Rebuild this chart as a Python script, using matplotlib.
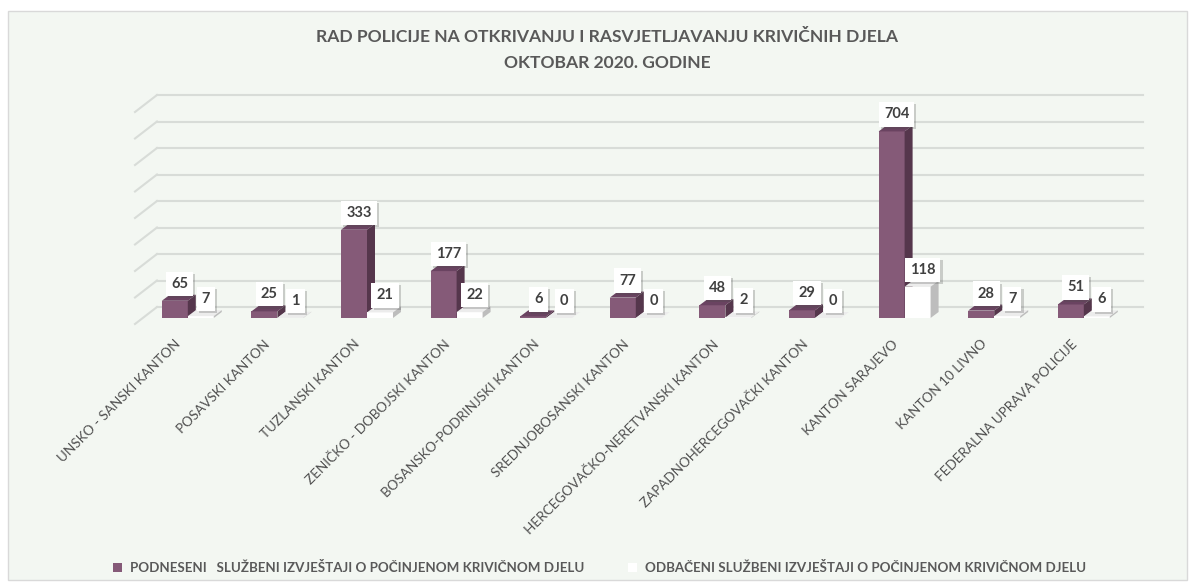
import matplotlib
matplotlib.use("Agg")
import matplotlib.pyplot as plt  # noqa: E402
from matplotlib.patches import Polygon, Rectangle  # noqa: E402
from matplotlib.transforms import ScaledTranslation, IdentityTransform  # noqa: E402
import matplotlib.patheffects as pe  # noqa: E402

kantoni = [
    "UNSKO - SANSKI KANTON", "POSAVSKI KANTON", "TUZLANSKI KANTON",
    "ZENIČKO - DOBOJSKI KANTON", "BOSANSKO-PODRINJSKI KANTON",
    "SREDNJOBOSANSKI KANTON", "HERCEGOVAČKO-NERETVANSKI KANTON",
    "ZAPADNOHERCEGOVAČKI KANTON", "KANTON SARAJEVO", "KANTON 10 LIVNO",
    "FEDERALNA UPRAVA POLICIJE",
]
podneseni = [65, 25, 333, 177, 6, 77, 48, 29, 704, 28, 51]
odbaceni = [7, 1, 21, 22, 0, 0, 2, 0, 118, 7, 6]
grid_vals = list(range(0, 801, 100))
leg_labels = ["PODNESENI   SLUŽBENI IZVJEŠTAJI O POČINJENOM KRIVIČNOM DJELU",
              "ODBAČENI SLUŽBENI IZVJEŠTAJI O POČINJENOM KRIVIČNOM DJELU"]
title = "RAD POLICIJE NA OTKRIVANJU I RASVJETLJAVANJU KRIVIČNIH DJELA\nOKTOBAR 2020. GODINE"

W, H, DPI = 1195, 585, 100
BG = "#F3F7F2"
GRID = "#D8DCD8"
TXT = "#595959"
PURPLE = ("#855A78", "#6A4361", "#55364C")   # front, top, side
WHITE = ("#FFFFFF", "#ECECEC", "#BDBDBD")
plt.rcParams["font.family"] = ["Lato", "DejaVu Sans"]

fig = plt.figure(figsize=(W / DPI, H / DPI), dpi=DPI)
fig.patch.set_facecolor("white")
fig.patches.append(Rectangle((8 / W, 5 / H), 1179 / W, 569 / H, transform=fig.transFigure,
                             facecolor=BG, edgecolor="#D9D9D9", lw=1, zorder=-10))

ax = fig.add_axes([143 / W, 267 / H, 985.6 / W, 212 / H])
ax.set_xlim(-0.5, len(kantoni) - 0.5)
ax.set_ylim(0, 800)
ax.axis("off")


def px(dx, dy):
    return ScaledTranslation(dx / DPI, dy / DPI, fig.dpi_scale_trans)


# back wall grid + left wall diagonals
fig.canvas.draw()
for v in grid_vals:
    ax.plot([-0.5, len(kantoni) - 0.5], [v, v], transform=ax.transData + px(14, 11),
            color=GRID, lw=1.5, clip_on=False, zorder=1)
    x0, y0 = ax.transData.transform((-0.5, v))
    ax.plot([x0 + 14, x0 - 8], [y0 + 11, y0 - 6], transform=IdentityTransform(),
            color=GRID, lw=1.5, clip_on=False, zorder=1)

bw = 0.29
DX, DY = 8, 6
z = 3


def bar3d(x0, v, cols):
    global z
    cont = ax.bar(x0, v, width=bw, align="edge", color=cols[0], lw=0, zorder=z, clip_on=False)
    (ax_, ay_), (bx_, by_) = ax.transData.transform([(x0, v), (x0 + bw, v)])
    (_, cy_) = ax.transData.transform((x0 + bw, 0))
    top = [(ax_, ay_), (bx_, by_), (bx_ + DX, by_ + DY), (ax_ + DX, ay_ + DY)]
    side = [(bx_, cy_), (bx_, by_), (bx_ + DX, by_ + DY), (bx_ + DX, cy_ + DY)]
    for pts, c in ((top, cols[1]), (side, cols[2])):
        ax.add_patch(Polygon(pts, closed=True, transform=IdentityTransform(), facecolor=c,
                             lw=0, zorder=z, clip_on=False))
    z += 1
    return cont


def label(xc, v):
    t = ax.text(xc, v, str(v), transform=ax.transData + px(5, 17), ha="center", va="center",
                fontsize=10.5, fontweight="bold", color="#404040", zorder=50,
                bbox=dict(boxstyle="square,pad=0.35", fc="white", ec="none"))
    t.get_bbox_patch().set_path_effects(
        [pe.SimplePatchShadow(offset=(1.5, -1.5), alpha=0.25), pe.Normal()])


handles = []
for i, (p, o) in enumerate(zip(podneseni, odbaceni)):
    hp = bar3d(i - bw, p, PURPLE)
    ho = bar3d(i, o, WHITE)
    if i == 0:
        handles = [hp, ho]
for i, (p, o) in enumerate(zip(podneseni, odbaceni)):
    label(i - bw / 2, p)
    label(i + bw / 2, o)

for i, name in enumerate(kantoni):
    ax.text(i, 0, name, transform=ax.transData + px(-9, -24), rotation=45, ha="right",
            va="center", rotation_mode="anchor", fontsize=9.7, color="#505050")

fig.text(607 / W, 1 - 50 / H, title, ha="center", va="center", fontsize=12.6,
         fontweight="bold", color=TXT, linespacing=1.75)

fig.legend(handles, leg_labels, loc="center left", bbox_to_anchor=(113 / W, 1 - 568 / H),
           ncol=2, frameon=False, borderaxespad=0, borderpad=0,
           handlelength=0.66, handleheight=0.66, handletextpad=0.6,
           columnspacing=3.3, prop=dict(size=9.6, weight="bold"), labelcolor=TXT)

fig.savefig("out.png", dpi=DPI, facecolor="white")
